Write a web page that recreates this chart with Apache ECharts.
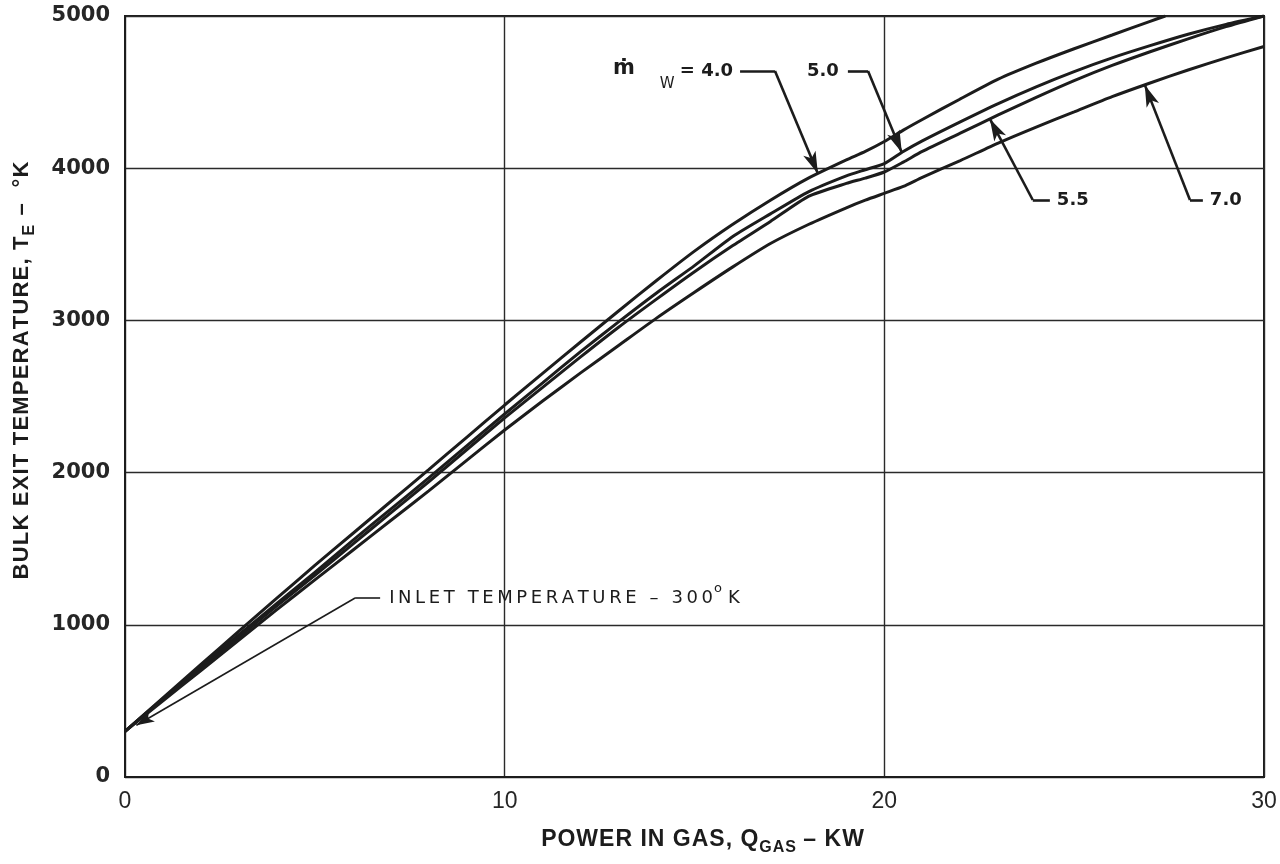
<!DOCTYPE html>
<html>
<head>
<meta charset="utf-8">
<script src="https://cdn.jsdelivr.net/npm/echarts@6/dist/echarts.min.js"></script>
<style>
html,body{margin:0;padding:0;background:#ffffff;}
#chart{width:1280px;height:864px;}
</style>
</head>
<body>
<div id="chart"></div>
<script>
// Axis ticks
const powerTicks = [0, 10, 20, 30];                    // kW
const tempTicks = [0, 1000, 2000, 3000, 4000, 5000];   // °K

// Bulk exit temperature (°K) against power in gas (kW), one curve per water flow ṁW
const flowLabels = ['4.0', '5.0', '5.5', '7.0'];
const curve40 = [[0,300],[1,520],[2,740],[3,958],[4,1175],[5,1390],[6,1600],[7,1810],[8,2020],[9,2232],[10,2444],[11,2652],[12,2858],[13,3062],[14,3262],[15,3455],[16,3630],[17,3790],[18,3935],[19,4055],[19.5,4110],[20,4175],[20.5,4250],[21,4320],[22,4455],[23,4585],[24,4690],[25,4785],[26,4875],[27,4965],[27.4,5000]];
const curve50 = [[0,300],[1,515],[2,725],[3,935],[4,1140],[5,1345],[6,1555],[7,1760],[8,1965],[9,2175],[10,2385],[11,2590],[12,2795],[13,2990],[14,3180],[15,3360],[16,3550],[17,3700],[18,3845],[19,3950],[19.5,3990],[20,4030],[20.5,4110],[21,4180],[22,4305],[23,4425],[24,4535],[25,4635],[26,4725],[27,4805],[28,4880],[29,4945],[30,5000]];
const curve55 = [[0,300],[1,510],[2,715],[3,920],[4,1125],[5,1325],[6,1530],[7,1735],[8,1940],[9,2150],[10,2360],[11,2560],[12,2760],[13,2955],[14,3140],[15,3320],[16,3490],[17,3650],[18,3815],[19,3900],[19.5,3935],[20,3975],[20.5,4040],[21,4110],[22,4230],[23,4350],[24,4465],[25,4575],[26,4675],[27,4765],[28,4850],[29,4930],[30,5000]];
const curve70 = [[0,300],[1,500],[2,700],[3,900],[4,1100],[5,1295],[6,1490],[7,1685],[8,1880],[9,2080],[10,2280],[11,2470],[12,2655],[13,2835],[14,3015],[15,3185],[16,3350],[17,3505],[18,3630],[19,3740],[19.5,3790],[20,3835],[20.5,3880],[21,3940],[22,4050],[23,4165],[24,4270],[25,4370],[26,4470],[27,4560],[28,4645],[29,4725],[30,4800]];

// Inlet temperature (°K)
const inletTemp = 300;

// Leader lines: label end, elbow, and the power (kW) at which the arrow meets its curve
const leader40 = { start: [16.2, 4638], elbow: [17.12, 4638], tipX: 18.25 };
const leader50 = { start: [19.04, 4638], elbow: [19.57, 4638], tipX: 20.46 };
const leader55 = { start: [24.36, 3791], elbow: [23.91, 3791], tipX: 22.78 };
const leader70 = { start: [28.39, 3791], elbow: [28.05, 3791], tipX: 26.86 };
const leaderInlet = { start: [6.72, 1176], elbow: [6.06, 1176], tip: [0.3, 340] };

const INK = '#1c1c1c';

function valueAt(curve, x) {
  for (let i = 1; i < curve.length; i++) {
    if (x <= curve[i][0]) {
      const [x0, y0] = curve[i - 1], [x1, y1] = curve[i];
      return y0 + (y1 - y0) * (x - x0) / (x1 - x0);
    }
  }
  return curve[curve.length - 1][1];
}

function leaderSegments(ld, tip, width, head) {
  const ls = { color: INK, width: width, type: 'solid' };
  return [
    [{ coord: ld.start, symbol: 'none', lineStyle: ls }, { coord: ld.elbow, symbol: 'none' }],
    [{ coord: ld.elbow, symbol: 'none', lineStyle: ls }, { coord: tip, symbol: 'arrow', symbolSize: head }]
  ];
}

const tip40 = [leader40.tipX, valueAt(curve40, leader40.tipX)];
const tip50 = [leader50.tipX, valueAt(curve50, leader50.tipX)];
const tip55 = [leader55.tipX, valueAt(curve55, leader55.tipX)];
const tip70 = [leader70.tipX, valueAt(curve70, leader70.tipX)];

const curveSeries = [curve40, curve50, curve55, curve70].map((c, i) => ({
  name: flowLabels[i],
  type: 'line',
  data: c,
  showSymbol: false,
  symbol: 'none',
  smooth: 0.2,
  lineStyle: { color: INK, width: 3 },
  silent: true,
  z: 3
}));

const option = {
  animation: false,
  backgroundColor: '#ffffff',
  grid: { left: 125, right: 16, top: 16, bottom: 87, show: true, borderColor: INK, borderWidth: 2, backgroundColor: 'transparent' },
  xAxis: {
    type: 'value', min: powerTicks[0], max: powerTicks[powerTicks.length - 1], interval: 10,
    axisLine: { show: true, onZero: false, lineStyle: { color: INK, width: 2 } },
    axisTick: { show: false },
    splitLine: { show: true, lineStyle: { color: '#2a2a2a', width: 1.4 } },
    axisLabel: { margin: 13, fontFamily: 'Liberation Sans', fontSize: 23, color: '#262626',
      formatter: v => String(v) }
  },
  yAxis: {
    type: 'value', min: tempTicks[0], max: tempTicks[tempTicks.length - 1], interval: 1000,
    axisLine: { show: true, onZero: false, lineStyle: { color: INK, width: 2 } },
    axisTick: { show: false },
    splitLine: { show: true, lineStyle: { color: '#2a2a2a', width: 1.4 } },
    axisLabel: { margin: 15, fontFamily: 'DejaVu Sans', fontWeight: 'bold', fontSize: 21, color: '#262626',
      formatter: v => String(v) }
  },
  series: curveSeries.concat([{
    name: 'leaders',
    type: 'line',
    data: [],
    silent: true,
    markLine: {
      silent: true,
      animation: false,
      label: { show: false },
      symbol: ['none', 'none'],
      data: []
        .concat(leaderSegments(leader40, tip40, 2.6, [10, 22]))
        .concat(leaderSegments(leader50, tip50, 2.6, [10, 22]))
        .concat(leaderSegments(leader55, tip55, 2.6, [10, 22]))
        .concat(leaderSegments(leader70, tip70, 2.6, [10, 22]))
        .concat(leaderSegments(leaderInlet, leaderInlet.tip, 1.6, [9, 18]))
    },
    z: 4
  }])
};

const chart = echarts.init(document.getElementById('chart'));
chart.setOption(option);

// ---- text annotations and axis titles ----
const mctx = document.createElement('canvas').getContext('2d');
function measure(t, size, weight, family) {
  mctx.font = weight + ' ' + size + 'px ' + family;
  return mctx.measureText(t).width;
}
function txt(t, x, y, size, weight, family, align) {
  return {
    type: 'text', x: x, y: y, silent: true,
    style: { text: t, fontSize: size, fontWeight: weight, fontFamily: family, fill: INK,
      align: align || 'left', verticalAlign: 'middle', textAlign: align || 'left', textVerticalAlign: 'middle' }
  };
}
// pieces laid out left to right from local x = 0
function row(pieces) {
  let x = 0; const children = [];
  pieces.forEach(p => {
    const sp = p.spacing || 0;
    const parts = sp ? Array.from(p.t) : [p.t];
    parts.forEach((ch, k) => {
      children.push(txt(ch, x, p.dy || 0, p.size, p.weight || 'normal', p.family));
      x += measure(ch, p.size, p.weight || 'normal', p.family) + (k < parts.length - 1 ? sp : 0);
    });
    x += p.after || 0;
  });
  return { children, width: x };
}

const toPx = p => chart.convertToPixel({ xAxisIndex: 0, yAxisIndex: 0 }, p);
const gridRect = chart.getModel().getComponent('grid').coordinateSystem.getRect();

const LBL = 'DejaVu Sans';
const TITLE = 'Liberation Sans';
const graphics = [];

// ṁW = 4.0
const a40 = toPx(leader40.start);
graphics.push(txt('ṁ', a40[0] - 116, a40[1] - 3, 21, 'bold', LBL, 'center'));
graphics.push(txt('W', a40[0] - 73, a40[1] + 13, 15, 'normal', LBL, 'center'));
graphics.push(txt('= ' + flowLabels[0], a40[0] - 7, a40[1], 18, 'bold', LBL, 'right'));

const a50 = toPx(leader50.start);
graphics.push(txt(flowLabels[1], a50[0] - 9, a50[1], 18, 'bold', LBL, 'right'));
const a55 = toPx(leader55.start);
graphics.push(txt(flowLabels[2], a55[0] + 7, a55[1], 18, 'bold', LBL, 'left'));
const a70 = toPx(leader70.start);
graphics.push(txt(flowLabels[3], a70[0] + 7, a70[1], 18, 'bold', LBL, 'left'));

// inlet temperature note
const aIn = toPx(leaderInlet.start);
const inRow = row([
  { t: 'INLET TEMPERATURE – ' + inletTemp, size: 18, family: LBL, spacing: 3.6, after: 1 },
  { t: 'o', size: 13, family: LBL, dy: -9, after: 6 },
  { t: 'K', size: 18, family: LBL }
]);
graphics.push({ type: 'group', x: aIn[0] + 9, y: aIn[1], children: inRow.children });

// x-axis title
const xTitle = row([
  { t: 'POWER IN GAS, Q', size: 23, weight: 'bold', family: TITLE, spacing: 1, after: 1 },
  { t: 'GAS', size: 16, weight: 'bold', family: TITLE, dy: 8, spacing: 1 },
  { t: ' – KW', size: 23, weight: 'bold', family: TITLE, spacing: 1 }
]);
graphics.push({ type: 'group', x: gridRect.x + gridRect.width / 2 + 8 - xTitle.width / 2, y: 840, children: xTitle.children });

// y-axis title, reading bottom to top
const yTitle = row([
  { t: 'BULK EXIT TEMPERATURE, T', size: 22, weight: 'bold', family: TITLE, spacing: 1.2, after: 1 },
  { t: 'E', size: 16, weight: 'bold', family: TITLE, dy: 8, after: 2 },
  { t: ' –  °K', size: 22, weight: 'bold', family: TITLE, spacing: 1.2 }
]);
graphics.push({
  type: 'group', x: 22, y: gridRect.y + gridRect.height / 2 - 26, rotation: Math.PI / 2,
  children: [{ type: 'group', x: -yTitle.width / 2, y: 0, children: yTitle.children }]
});

chart.setOption({ graphic: { elements: graphics } });
</script>
</body>
</html>
